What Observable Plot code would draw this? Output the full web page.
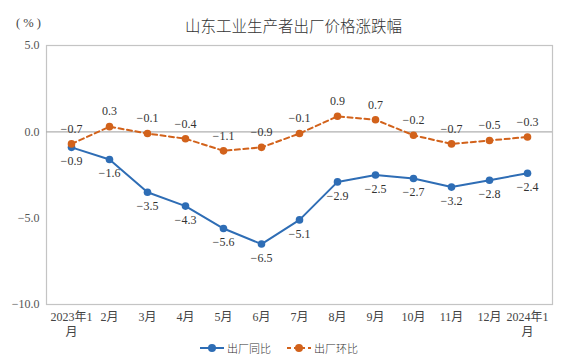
<!DOCTYPE html>
<html><head><meta charset="utf-8">
<script src="https://cdn.jsdelivr.net/npm/d3@7"></script>
<script src="https://cdn.jsdelivr.net/npm/@observablehq/plot@0.6"></script>
<style>
body{margin:0;background:#fff;font-family:"Liberation Serif","Noto Sans CJK SC",serif;}
#wrap{width:587px;height:363px;position:relative;overflow:hidden;}
#head{height:38px;position:relative;}
#title{position:absolute;left:0;width:587px;top:14px;text-align:center;font-size:15.5px;color:#333;font-family:"Noto Sans CJK SC",sans-serif;font-weight:300;}
#unit{position:absolute;left:16px;top:16px;font-size:12.5px;color:#444;white-space:pre;}
#legend{position:absolute;left:200px;top:340px;display:flex;align-items:center;gap:16px;font-size:11px;color:#333;height:16px;font-family:"Noto Sans CJK SC",sans-serif;font-weight:300;}
#legend span.item{display:flex;align-items:center;gap:3px;}
</style></head>
<body><div id="wrap">
<div id="head"><div id="unit">( % )</div><div id="title">山东工业生产者出厂价格涨跌幅</div></div>
<div id="chart"></div>
<div id="legend"></div>
</div>
<script>
const months = ["2023年1\n月","2月","3月","4月","5月","6月","7月","8月","9月","10月","11月","12月","2024年1\n月"];
const yoy = [-0.9,-1.6,-3.5,-4.3,-5.6,-6.5,-5.1,-2.9,-2.5,-2.7,-3.2,-2.8,-2.4];
const mom = [-0.7,0.3,-0.1,-0.4,-1.1,-0.9,-0.1,0.9,0.7,-0.2,-0.7,-0.5,-0.3];
const yTicks = [5,0,-5,-10];

const blue = "#2e6db5", orange = "#d2621b";
const fmt = v => (v < 0 ? "−" : "") + Math.abs(v).toFixed(1);
const A = months.map((m,i)=>({m, v: yoy[i]}));
const B = months.map((m,i)=>({m, v: mom[i]}));

const chart = Plot.plot({
  width: 587, height: 300,
  marginLeft: 46, marginRight: 35, marginTop: 7, marginBottom: 34,
  style: {fontFamily: '"Liberation Serif","Noto Sans CJK SC",serif', fontSize: "12px", color: "#444", background: "#fff"},
  x: {type: "band", domain: months, padding: 0, label: null},
  y: {domain: [-10, 5], label: null},
  marks: [
    Plot.frame({stroke: "#c4c4c4", strokeWidth: 1.2}),
    Plot.ruleY([0], {stroke: "#b0b0b0", strokeWidth: 1.2}),
    Plot.axisY({ticks: yTicks, tickSize: 0, tickPadding: 7, tickFormat: d => d < 0 ? "−" + Math.abs(d).toFixed(1) : d.toFixed(1), fill: "#555"}),
    Plot.axisX({tickSize: 0, tickPadding: 6, fill: "#444", lineHeight: 1.25}),
    Plot.line(A, {x: "m", y: "v", stroke: blue, strokeWidth: 2}),
    Plot.dot(A, {x: "m", y: "v", fill: blue, r: 3.8}),
    Plot.text(A, {x: "m", y: "v", text: d => fmt(d.v), dy: 14, fill: "#333", fontSize: 12}),
    Plot.line(B, {x: "m", y: "v", stroke: orange, strokeWidth: 2, strokeDasharray: "5,3.5"}),
    Plot.dot(B, {x: "m", y: "v", fill: orange, r: 3.8}),
    Plot.text(B, {x: "m", y: "v", text: d => fmt(d.v), dy: -15, fill: "#333", fontSize: 12})
  ]
});
document.getElementById("chart").appendChild(chart);

function legendItem(color, dash, label){
  const s = `<svg width="24" height="12"><line x1="0" y1="6" x2="24" y2="6" stroke="${color}" stroke-width="2" ${dash?'stroke-dasharray="4,3"':''}/><circle cx="12" cy="6" r="4" fill="${color}"/></svg>`;
  return `<span class="item">${s}<span>${label}</span></span>`;
}
document.getElementById("legend").innerHTML = legendItem(blue,false,"出厂同比") + legendItem(orange,true,"出厂环比");
</script>
</body></html>
